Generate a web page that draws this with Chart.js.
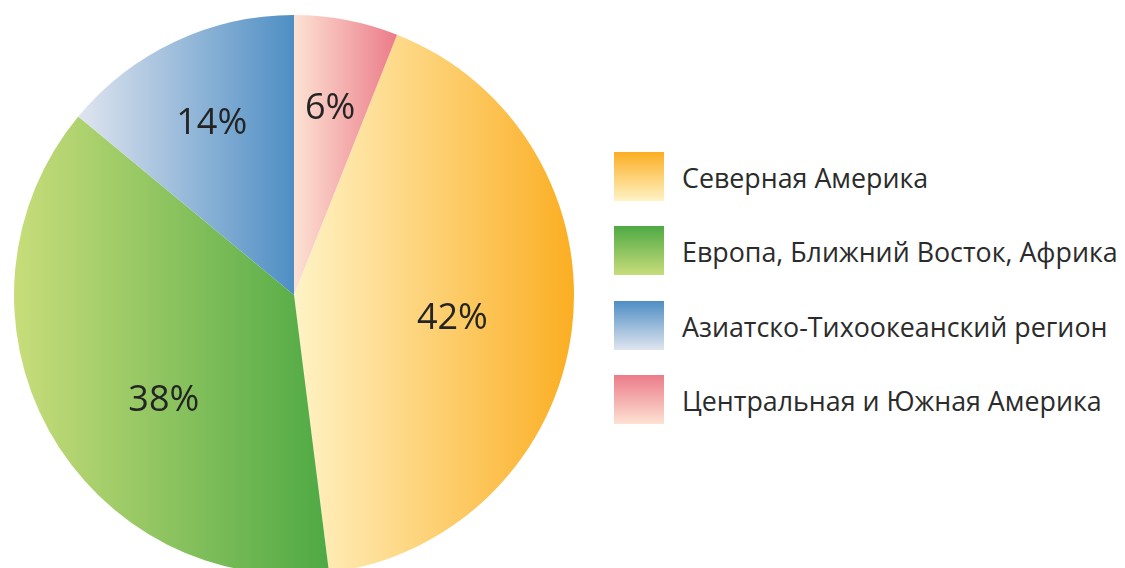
<!DOCTYPE html>
<html>
<head>
<meta charset="utf-8">
<script src="https://cdn.jsdelivr.net/npm/chart.js@4.4.1/dist/chart.umd.min.js"></script>
<style>
  html, body { margin: 0; padding: 0; background: #fff; overflow: hidden; width: 1125px; height: 568px; }
  #pieBox { position: absolute; left: 14px; top: 15px; width: 560px; height: 560px; }
  #legend { position: absolute; left: 614px; top: 152px; font-family: "Open Sans", sans-serif; color: #2b2b2b; }
  .item { position: relative; height: 74.3px; }
  .box { position: absolute; left: 0; top: 0; width: 50px; height: 49px; }
  .txt { position: absolute; left: 68px; top: 25px; transform: translateY(-50%); font-size: 26.8px; white-space: nowrap; }
</style>
</head>
<body>
<div id="pieBox"><canvas id="myChart"></canvas></div>
<div id="legend"></div>
<script>
const ctx = document.getElementById('myChart').getContext('2d');

// data, legend order
const regions = ['Северная Америка', 'Европа, Ближний Восток, Африка', 'Азиатско-Тихоокеанский регион', 'Центральная и Южная Америка'];
const shares = [42, 38, 14, 6];
// light -> dark colours for each slice
const lightColors = ['#fff3c6', '#c8dd7a', '#e0e5ef', '#fde2d4'];
const darkColors = ['#fbae22', '#4ea944', '#4e8ec4', '#eb7b88'];

const total = shares.reduce((a, b) => a + b, 0);
// last slice ends at 12 o'clock
const rotation = shares[shares.length - 1] / total * 360;

// x range of a slice, from its angles
function sliceXRange(area, index) {
    let cx = (area.left + area.right) / 2;
    let r = Math.min(area.right - area.left, area.bottom - area.top) / 2;
    let before = 0;
    for (let i = 0; i < index; i++) before += shares[i];
    let a0 = -Math.PI / 2 + rotation * Math.PI / 180 + before / total * 2 * Math.PI;
    let a1 = a0 + shares[index] / total * 2 * Math.PI;
    let xs = [cx, cx + r * Math.cos(a0), cx + r * Math.cos(a1)];
    for (let k = -4; k <= 4; k++) {
        let a = k * Math.PI;
        if (a > a0 && a < a1) xs.push(cx + r * Math.cos(a));
    }
    return [Math.min(...xs), Math.max(...xs)];
}

function sliceColor(c) {
    let area = c.chart.chartArea;
    if (!area) return darkColors[c.dataIndex];
    let [x0, x1] = sliceXRange(area, c.dataIndex);
    let g = c.chart.ctx.createLinearGradient(x0, 0, x1, 0);
    g.addColorStop(0, lightColors[c.dataIndex]);
    g.addColorStop(1, darkColors[c.dataIndex]);
    return g;
}

// percent labels inside the slices
const pctLabels = {
    id: 'pctLabels',
    afterDatasetsDraw(chart) {
        let meta = chart.getDatasetMeta(0);
        let c = chart.ctx;
        c.save();
        c.font = '36px "Open Sans", sans-serif';
        c.fillStyle = '#242424';
        c.textAlign = 'center';
        c.textBaseline = 'middle';
        meta.data.forEach((arc, i) => {
            let mid = (arc.startAngle + arc.endAngle) / 2;
            let f = shares[i] >= 20 ? 0.57 : 0.69;
            // big slice on the left: label sits a bit before the middle
            if (shares[i] >= 20 && Math.cos(mid) < 0) {
                mid -= 0.16;
                f = 0.59;
            }
            let x = arc.x + Math.cos(mid) * arc.outerRadius * f;
            let y = arc.y + Math.sin(mid) * arc.outerRadius * f + 4;
            c.fillText(shares[i] + '%', x, y);
        });
        c.restore();
    }
};

new Chart(ctx, {
    type: 'pie',
    data: {
        labels: regions,
        datasets: [{
            data: shares,
            backgroundColor: sliceColor,
            borderWidth: 0
        }]
    },
    options: {
        responsive: true,
        maintainAspectRatio: false,
        rotation: rotation,
        animation: false,
        plugins: {
            legend: { display: false },
            tooltip: { enabled: false }
        }
    },
    plugins: [pctLabels]
});

// legend with vertical gradient boxes
let legend = document.getElementById('legend');
for (let i = 0; i < regions.length; i++) {
    let item = document.createElement('div');
    item.className = 'item';
    let box = document.createElement('div');
    box.className = 'box';
    box.style.background = `linear-gradient(to bottom, ${darkColors[i]}, ${lightColors[i]})`;
    let txt = document.createElement('div');
    txt.className = 'txt';
    txt.textContent = regions[i];
    item.appendChild(box);
    item.appendChild(txt);
    legend.appendChild(item);
}
</script>
</body>
</html>
